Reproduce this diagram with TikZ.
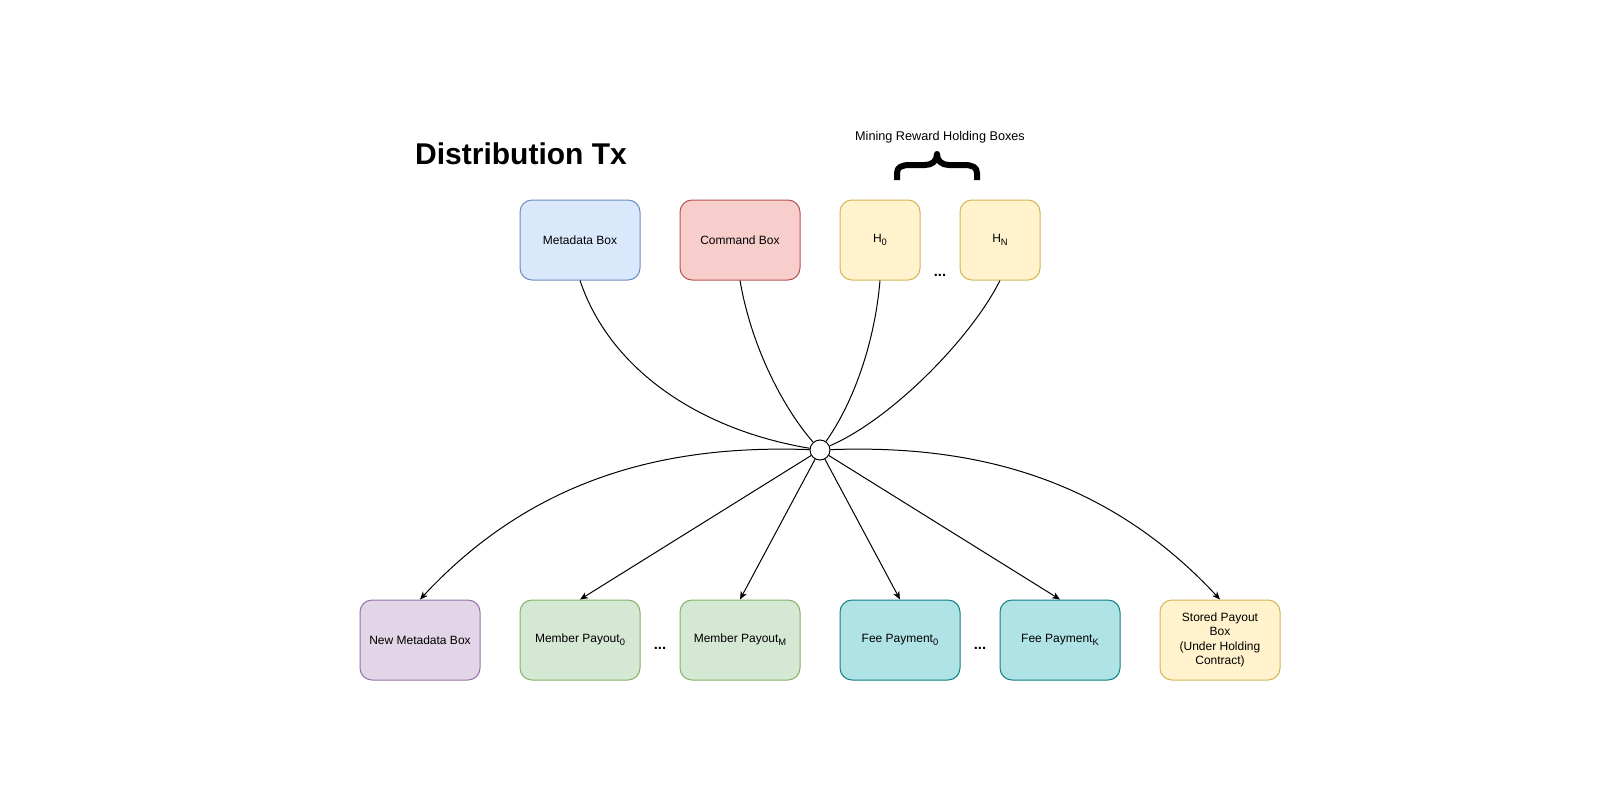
\documentclass[tikz,border=0pt]{standalone}
\usepackage{fontspec}
\setmainfont{Liberation Sans}
\usetikzlibrary{arrows.meta}
\definecolor{mdfill}{HTML}{DAE8FC}\definecolor{mdline}{HTML}{6C8EBF}
\definecolor{cmfill}{HTML}{F8CECC}\definecolor{cmline}{HTML}{B85450}
\definecolor{hfill}{HTML}{FFF2CC}\definecolor{hline}{HTML}{D6B656}
\definecolor{nmfill}{HTML}{E1D5E7}\definecolor{nmline}{HTML}{9673A6}
\definecolor{mpfill}{HTML}{D5E8D4}\definecolor{mpline}{HTML}{82B366}
\definecolor{fpfill}{HTML}{B0E3E6}\definecolor{fpline}{HTML}{0E8088}
\newcommand\mysub[1]{\raisebox{-0.45ex}{\fontsize{7}{7}\selectfont #1}}
\begin{document}
\begin{tikzpicture}[x=0.75pt,y=-0.75pt,
  box/.style={draw, rounded corners=9pt, minimum width=90pt, minimum height=60pt,
    font=\fontsize{9}{10.8}\selectfont, align=center, inner sep=2pt, line width=0.75pt},
  hbox/.style={box, minimum width=60pt, fill=hfill, draw=hline},
  dots/.style={font=\fontsize{11}{12}\selectfont\bfseries},
  conn/.style={draw=black, line width=0.75pt},
  arr/.style={conn, -{Stealth[length=6pt,width=5pt,inset=1.8pt]}}]
\fill[white] (0,0) rectangle (1600,800);
\useasboundingbox (0,0) rectangle (1600,800);

\node[font=\fontsize{22.5}{27}\selectfont\bfseries, anchor=base] (title) at (521,164) {Distribution Tx};
\node[font=\fontsize{9.5}{11}\selectfont, anchor=base] (mrhb) at (940,140) {Mining Reward Holding Boxes};
\draw[line width=4.5pt, line cap=butt, line join=round]
  (897,180) -- (897,173) .. controls (897,167) and (902,165) .. (910,165) -- (925,165)
  .. controls (932,165) and (937,161) .. (937,154)
  .. controls (937,161) and (942,165) .. (949,165) -- (964,165)
  .. controls (972,165) and (977,167) .. (977,173) -- (977,180);

% top row
\node[box, fill=mdfill, draw=mdline] (md) at (580,240) {Metadata Box};
\node[box, fill=cmfill, draw=cmline] (cm) at (740,240) {Command Box};
\node[hbox] (h0) at (880,240) {H\mysub{0}};
\node[hbox] (hn) at (1000,240) {H\mysub{N}};
\node[dots, anchor=base] (d1) at (940,276) {...};

% hub
\node[draw, circle, fill=white, minimum size=15pt, inner sep=0pt, line width=0.75pt] (c) at (820,450) {};

% bottom row
\node[box, fill=nmfill, draw=nmline] (nm) at (420,640) {New Metadata Box};
\node[box, fill=mpfill, draw=mpline] (mp0) at (580,640) {Member Payout\mysub{0}};
\node[box, fill=mpfill, draw=mpline] (mpm) at (740,640) {Member Payout\mysub{M}};
\node[box, fill=fpfill, draw=fpline] (fp0) at (900,640) {Fee Payment\mysub{0}};
\node[box, fill=fpfill, draw=fpline] (fpk) at (1060,640) {Fee Payment\mysub{K}};
\node[box, fill=hfill, draw=hline] (sp) at (1220,640) {Stored Payout\\Box\\(Under Holding\\Contract)};
\node[dots, anchor=base] (d2) at (660,649) {...};
\node[dots, anchor=base] (d3) at (980,649) {...};

% inputs
\draw[conn] (md.south) .. controls (610,370) and (700,430) .. (c);
\draw[conn] (cm.south) .. controls (752,350) and (785,410) .. (c);
\draw[conn] (h0.south) .. controls (875,340) and (855,400) .. (c);
\draw[conn] (hn.south) .. controls (970,340) and (890,420) .. (c);

% outputs
\draw[arr] (c) .. controls (680,445) and (540,470) .. (nm.north);
\draw[arr] (c) -- (mp0.north);
\draw[arr] (c) -- (mpm.north);
\draw[arr] (c) -- (fp0.north);
\draw[arr] (c) -- (fpk.north);
\draw[arr] (c) .. controls (960,445) and (1100,470) .. (sp.north);
\end{tikzpicture}
\end{document}
